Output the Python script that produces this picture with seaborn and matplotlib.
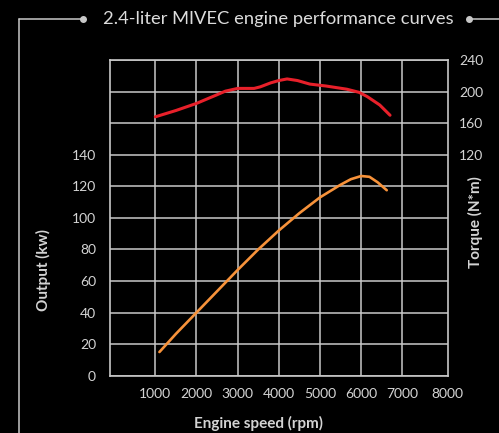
import matplotlib
matplotlib.use("Agg")
import matplotlib.pyplot as plt
import matplotlib.transforms as mtransforms
from matplotlib.lines import Line2D
import seaborn as sns
import pandas as pd

# ---- data ----
torque_rpm = [1000, 1500, 2000, 2500, 2700, 3000, 3400, 3550, 3800, 4000, 4200, 4450, 4750, 5150, 5650, 5950, 6150, 6450, 6700]
torque_nm = [168, 176, 185, 196, 200.5, 204, 204, 206, 211, 214, 216, 214, 209.5, 207, 203, 199, 193.5, 183, 170]

output_rpm = [1100, 1500, 2000, 2500, 3000, 3500, 4000, 4500, 5000, 5500, 5750, 6000, 6200, 6400, 6620]
output_kw = [15, 26.5, 40, 53.5, 67, 80, 92, 103, 113, 121, 124.5, 126.5, 126, 122.5, 117.5]

x_ticks = [1000, 2000, 3000, 4000, 5000, 6000, 7000, 8000]
x_tick_labels = ["1000", "2000", "3000", "4000", "5000", "6000", "7000", "8000"]
left_ticks = [0, 20, 40, 60, 80, 100, 120, 140, 160, 180, 200]
left_tick_labels = ["0", "20", "40", "60", "80", "100", "120", "140", "", "", ""]
right_ticks = [120, 160, 200, 240]
right_tick_labels = ["120", "160", "200", "240"]

title = "2.4-liter MIVEC engine performance curves"
xlabel = "Engine speed (rpm)"
ylabel_left = "Output (kw)"
ylabel_right = "Torque (N*m)"

# ---- style ----
sns.set_style("dark")
plt.rcParams["font.family"] = ["Lato", "DejaVu Sans"]

BG = "black"
GRID = "#c8c8c8"
TXT = "#d4d4d4"
RED = "#e8202a"
ORANGE = "#f7923a"

fig = plt.figure(figsize=(4.99, 4.33), dpi=100, facecolor=BG)
ax = fig.add_axes([110 / 499, 1 - 375.7 / 433, 337.7 / 499, 315.7 / 433])
ax.set_facecolor(BG)

df_out = pd.DataFrame({"rpm": output_rpm, "kw": output_kw})
df_tq = pd.DataFrame({"rpm": torque_rpm, "nm": torque_nm})

sns.lineplot(data=df_out, x="rpm", y="kw", ax=ax, color=ORANGE, linewidth=1.9, zorder=5)
ax.set_xlim(-100, 8100)
ax.set_ylim(0, 200)
ax.set_xticks(x_ticks)
ax.set_xticklabels(x_tick_labels)
ax.set_yticks(left_ticks)
ax.set_yticklabels(left_tick_labels)
ax.grid(True, color=GRID, linewidth=1.1)
ax.set_axisbelow(True)
for s in ax.spines.values():
    s.set_visible(True)
    s.set_color(GRID)
    s.set_linewidth(1.2)
ax.tick_params(axis="both", length=0, colors=TXT, labelsize=10)
ax.tick_params(axis="y", pad=10)
ax.tick_params(axis="x", pad=9)
ax.set_xlabel(xlabel, color=TXT, fontsize=11, fontweight="bold")
ax.set_ylabel(ylabel_left, color=TXT, fontsize=11, fontweight="bold")
ax.xaxis.set_label_coords((258 - 110) / 337.7, (375.7 - 423) / 315.7)
ax.yaxis.set_label_coords((43 - 110) / 337.7, (375.7 - 270) / 315.7)
ax.xaxis.label.set_va("center")
ax.yaxis.label.set_va("center")

# hide gridline at 8000 and push its label to the frame edge
ax.xaxis.get_gridlines()[-1].set_visible(False)
lbl = ax.get_xticklabels()[-1]
lbl.set_transform(lbl.get_transform() + mtransforms.ScaledTranslation(4 / 100, 0, fig.dpi_scale_trans))

ax2 = ax.twinx()
sns.lineplot(data=df_tq, x="rpm", y="nm", ax=ax2, color=RED, linewidth=2.2)
ax2.set_ylim(-160, 240)
ax2.set_yticks(right_ticks)
ax2.set_yticklabels(right_tick_labels)
ax2.grid(False)
for s in ax2.spines.values():
    s.set_visible(False)
ax2.tick_params(axis="y", length=0, colors=TXT, labelsize=10, pad=8)
ax2.set_ylabel(ylabel_right, color=TXT, fontsize=11, fontweight="bold")
ax2.yaxis.set_label_coords((475 - 110) / 337.7, (375.7 - 222) / 315.7)
ax2.yaxis.label.set_va("center")
ax2.set_xlabel("")

# title and frame decoration
fig.text(278 / 499, 1 - 19 / 433, title, color="#dcdcdc", fontsize=13.2, ha="center", va="center")
W, H = 499, 433
def fx(x): return x / W
def fy(y): return 1 - y / H
fig.add_artist(Line2D([fx(19), fx(83)], [fy(19), fy(19)], color=GRID, lw=1.1, transform=fig.transFigure))
fig.add_artist(Line2D([fx(19), fx(19)], [fy(19), fy(433)], color=GRID, lw=1.1, transform=fig.transFigure))
fig.add_artist(Line2D([fx(469), fx(499)], [fy(19), fy(19)], color=GRID, lw=1.1, transform=fig.transFigure))
fig.add_artist(Line2D([fx(83), fx(469)], [fy(19), fy(19)], color=GRID, lw=0, marker="o", markersize=4,
                      markevery=[0, 1], transform=fig.transFigure))

fig.savefig("out.png", dpi=100, facecolor=BG)
